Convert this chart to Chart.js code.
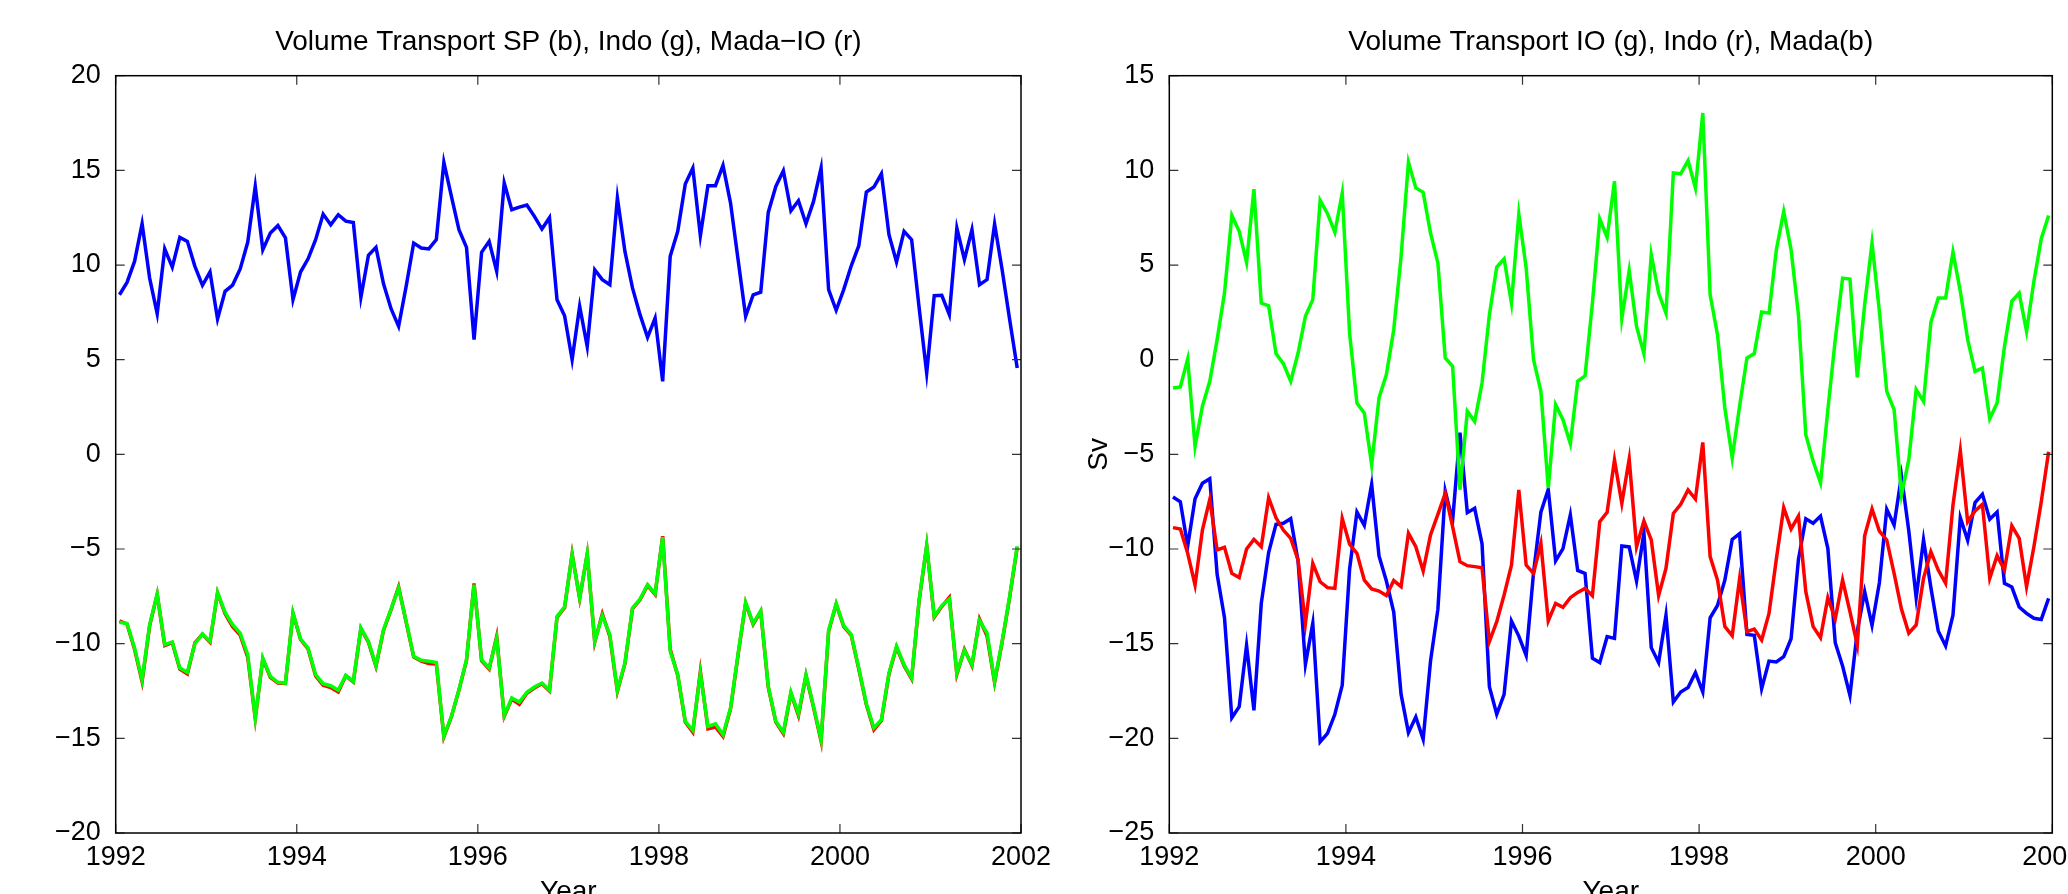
<!DOCTYPE html>
<html>
<head>
<meta charset="utf-8">
<title>Volume Transport</title>
<script src="https://cdn.jsdelivr.net/npm/chart.js@4.4.1/dist/chart.umd.min.js"></script>
<style>
    html, body { margin: 0; padding: 0; background: #fff; overflow: hidden; }
    #wrap { position: relative; width: 2068px; height: 894px; overflow: hidden; }
    .box { position: absolute; top: 0; height: 930px; }
    #leftBox { left: 0; width: 1060px; }
    #rightBox { left: 1060px; width: 1060px; }
</style>
</head>
<body>
<div id="wrap">
    <div class="box" id="leftBox"><canvas id="leftChart"></canvas></div>
    <div class="box" id="rightBox"><canvas id="rightChart"></canvas></div>
</div>
<script>
// monthly values, Jan 1992 .. Dec 2001 (Sv)
const sp = [
    8.43, 9.08, 10.19, 12.18, 9.31, 7.43, 10.85, 9.89, 11.46, 11.25,
    9.93, 8.93, 9.63, 7.15, 8.61, 8.94, 9.79, 11.20, 14.15, 10.81,
    11.69, 12.08, 11.43, 8.17, 9.63, 10.33, 11.34, 12.69, 12.13, 12.66,
    12.32, 12.25, 8.29, 10.51, 10.93, 9.01, 7.69, 6.76, 8.87, 11.16,
    10.90, 10.85, 11.34, 15.42, 13.63, 11.87, 10.93, 6.06, 10.67, 11.25,
    9.67, 14.33, 12.92, 13.06, 13.17, 12.57, 11.90, 12.50, 8.17, 7.32,
    5.00, 7.82, 5.70, 9.75, 9.23, 8.96, 13.54, 10.72, 8.79, 7.38,
    6.18, 7.20, 3.86, 10.46, 11.78, 14.28, 15.12, 11.55, 14.19, 14.19,
    15.26, 13.27, 10.28, 7.29, 8.43, 8.57, 12.78, 14.15, 14.98, 12.87,
    13.40, 12.18, 13.36, 15.12, 8.70, 7.61, 8.70, 9.96, 11.02, 13.86,
    14.12, 14.82, 11.60, 10.16, 11.78, 11.34, 7.73, 4.30, 8.38, 8.40,
    7.38, 11.95, 10.28, 11.87, 8.96, 9.23, 12.17, 9.75, 7.11, 4.56
];

const indo = [
    -8.87, -8.94, -10.23, -11.90, -9.00, -7.38, -10.05, -9.91, -11.29, -11.51,
    -10.00, -9.49, -9.88, -7.29, -8.35, -9.00, -9.44, -10.58, -13.93, -10.76,
    -11.73, -12.04, -12.08, -8.38, -9.75, -10.23, -11.64, -12.11, -12.22, -12.46,
    -11.67, -11.99, -9.17, -9.88, -11.16, -9.26, -8.17, -7.06, -8.82, -10.67,
    -10.88, -10.93, -10.99, -14.89, -13.84, -12.43, -10.85, -6.88, -10.85, -11.29,
    -9.70, -13.80, -12.87, -13.08, -12.57, -12.29, -12.08, -12.46, -8.56, -8.06,
    -5.30, -7.59, -5.25, -9.88, -8.52, -9.52, -12.46, -11.02, -8.12, -7.64,
    -6.88, -7.36, -4.37, -10.40, -11.64, -14.10, -14.58, -11.58, -14.37, -14.23,
    -14.81, -13.40, -10.53, -7.82, -8.94, -8.26, -12.25, -14.10, -14.68, -12.57,
    -13.70, -11.64, -13.31, -15.07, -9.30, -7.89, -9.05, -9.52, -11.29, -13.17,
    -14.45, -14.01, -11.55, -10.14, -11.11, -11.81, -7.68, -4.81, -8.56, -7.99,
    -7.64, -11.55, -10.35, -11.11, -8.77, -9.44, -11.99, -9.88, -7.50, -4.86
];

// almost on top of indo, peeks out here and there
const madaIO = [
    -8.80, -8.96, -10.30, -12.00, -9.05, -7.40, -10.10, -9.95, -11.35, -11.60,
    -9.95, -9.50, -9.92, -7.32, -8.42, -9.10, -9.55, -10.72, -13.95, -10.80,
    -11.78, -12.08, -12.10, -8.40, -9.78, -10.28, -11.70, -12.20, -12.32, -12.55,
    -11.70, -12.02, -9.20, -9.92, -11.20, -9.30, -8.20, -7.00, -8.86, -10.70,
    -10.92, -11.05, -11.08, -14.92, -13.86, -12.45, -10.88, -6.82, -10.90, -11.34,
    -9.62, -13.84, -12.92, -13.20, -12.62, -12.34, -12.12, -12.50, -8.60, -8.10,
    -5.26, -7.62, -5.28, -9.92, -8.42, -9.62, -12.52, -11.06, -8.16, -7.68,
    -6.92, -7.40, -4.32, -10.30, -11.68, -14.14, -14.68, -11.46, -14.50, -14.40,
    -14.90, -13.44, -10.58, -7.86, -8.98, -8.30, -12.30, -14.14, -14.75, -12.62,
    -13.80, -11.68, -13.36, -15.15, -9.34, -7.92, -9.10, -9.56, -11.34, -13.22,
    -14.55, -14.06, -11.60, -10.18, -11.16, -11.86, -7.72, -4.84, -8.60, -8.04,
    -7.55, -11.62, -10.30, -11.16, -8.70, -9.60, -12.04, -9.92, -7.54, -4.90
];

const io = [
    -1.50, -1.44, 0.04, -4.58, -2.46, -1.14, 1.06, 3.52, 7.62, 6.78,
    5.14, 9.01, 2.99, 2.85, 0.32, -0.21, -1.14, 0.35, 2.29, 3.17,
    8.42, 7.71, 6.73, 8.80, 1.41, -2.29, -2.82, -5.55, -2.02, -0.79,
    1.58, 5.46, 10.44, 9.07, 8.84, 6.69, 5.11, 0.09, -0.35, -6.87,
    -2.73, -3.26, -1.23, 2.38, 4.89, 5.32, 2.99, 7.69, 4.84, 0.00,
    -1.67, -6.78, -2.38, -3.17, -4.44, -1.14, -0.85, 2.99, 7.43, 6.46,
    9.42, 2.17, 4.70, 1.76, 0.32, 5.55, 3.52, 2.46, 9.86, 9.82,
    10.51, 9.07, 13.03, 3.43, 1.32, -2.55, -5.19, -2.46, 0.09, 0.32,
    2.52, 2.46, 5.81, 7.83, 5.81, 2.38, -3.96, -5.37, -6.51, -2.64,
    1.06, 4.31, 4.26, -0.93, 2.90, 6.16, 2.55, -1.67, -2.64, -7.13,
    -5.28, -1.58, -2.20, 1.97, 3.26, 3.26, 5.69, 3.61, 1.06, -0.62,
    -0.44, -3.12, -2.29, 0.70, 3.08, 3.52, 1.50, 4.14, 6.39, 7.62
];

const mada = [
    -7.25, -7.50, -9.84, -7.34, -6.53, -6.29, -11.34, -13.63, -18.91, -18.33,
    -15.09, -18.52, -12.87, -10.19, -8.70, -8.64, -8.40, -10.63, -16.09, -13.93,
    -20.19, -19.74, -18.73, -17.20, -11.07, -8.05, -8.75, -6.58, -10.37, -11.69,
    -13.33, -17.68, -19.70, -18.87, -20.05, -15.92, -13.19, -6.94, -8.52, -3.86,
    -8.08, -7.85, -9.72, -17.27, -18.73, -17.68, -13.80, -14.60, -15.62, -11.25,
    -8.05, -6.85, -10.63, -9.98, -8.20, -11.13, -11.29, -15.77, -16.00, -14.63,
    -14.72, -9.84, -9.89, -11.69, -9.14, -15.21, -16.00, -13.50, -18.08, -17.55,
    -17.32, -16.53, -17.55, -13.63, -12.98, -11.64, -9.49, -9.19, -14.51, -14.56,
    -17.38, -15.92, -15.97, -15.69, -14.74, -10.55, -8.40, -8.64, -8.26, -9.98,
    -14.95, -16.18, -17.73, -14.33, -12.25, -14.03, -11.78, -7.90, -8.73, -6.14,
    -9.05, -12.57, -9.52, -12.04, -14.33, -15.12, -13.50, -8.35, -9.54, -7.55,
    -7.11, -8.43, -8.05, -11.81, -12.01, -13.06, -13.40, -13.66, -13.72, -12.61
];

// mid-month time stamps in decimal years
const months = sp.map((_, k) => 1992 + (k + 0.5) / 12);
const yearTicks = [1992, 1994, 1996, 1998, 2000, 2002];

Chart.defaults.font.family = '"Liberation Sans", Arial, Helvetica, sans-serif';
Chart.defaults.color = '#000';

function toXY(values) {
    return values.map((v, k) => ({ x: months[k], y: v }));
}

function lineSet(label, values, color) {
    return {
        label: label,
        data: toXY(values),
        borderColor: color,
        borderWidth: 3.5,
        pointRadius: 0,
        tension: 0,
        fill: false
    };
}

// matlab style box with inward ticks on all four sides
const matlabBox = {
    id: 'matlabBox',
    afterDatasetsDraw: function(chart) {
        const ctx = chart.ctx;
        const a = chart.chartArea;
        const xs = chart.scales.x, ys = chart.scales.y;
        const len = 9;
        ctx.save();
        ctx.strokeStyle = '#333';
        ctx.lineWidth = 1.2;
        ctx.beginPath();
        xs.ticks.forEach(function(t) {
            const px = xs.getPixelForValue(t.value);
            ctx.moveTo(px, a.bottom); ctx.lineTo(px, a.bottom - len);
            ctx.moveTo(px, a.top); ctx.lineTo(px, a.top + len);
        });
        ys.ticks.forEach(function(t) {
            const py = ys.getPixelForValue(t.value);
            ctx.moveTo(a.left, py); ctx.lineTo(a.left + len, py);
            ctx.moveTo(a.right, py); ctx.lineTo(a.right - len, py);
        });
        ctx.stroke();
        ctx.strokeStyle = '#000';
        ctx.lineWidth = 1.5;
        ctx.strokeRect(a.left, a.top, a.right - a.left, a.bottom - a.top);
        ctx.restore();
    }
};

function makeOptions(opts) {
    return {
        responsive: true,
        maintainAspectRatio: false,
        animation: false,
        layout: { padding: { left: 0, right: opts.padRight, top: 0, bottom: 0 } },
        plugins: {
            legend: { display: false },
            tooltip: { enabled: false },
            title: {
                display: true,
                text: opts.title,
                fullSize: false,
                color: '#000',
                font: { size: 28, weight: 'normal' },
                padding: { top: 25.7, bottom: 16.4 }
            }
        },
        scales: {
            x: {
                type: 'linear',
                min: 1992,
                max: 2002,
                afterBuildTicks: function(scale) {
                    scale.ticks = yearTicks.map(v => ({ value: v }));
                },
                afterFit: function(scale) { scale.height = 97; },
                grid: { display: false },
                border: { display: false },
                ticks: {
                    padding: 0,
                    font: { size: 27 },
                    maxRotation: 0,
                    callback: function(value) { return String(value); }
                },
                title: {
                    display: true,
                    text: 'Year',
                    font: { size: 28 },
                    padding: { top: 0, bottom: 21 }
                }
            },
            y: {
                min: opts.yMin,
                max: opts.yMax,
                afterFit: function(scale) { scale.width = opts.yWidth; },
                grid: { display: false },
                border: { display: false },
                ticks: {
                    stepSize: 5,
                    padding: 7,
                    font: { size: 27 },
                    callback: function(value) { return String(value).replace('-', '\u2212'); }
                },
                title: {
                    display: !!opts.yTitle,
                    text: opts.yTitle || '',
                    font: { size: 28 },
                    padding: { top: 22, bottom: 0 }
                }
            }
        }
    };
}

document.addEventListener('DOMContentLoaded', function() {
    const ctxLeft = document.getElementById('leftChart').getContext('2d');
    const ctxRight = document.getElementById('rightChart').getContext('2d');

    // left panel: SP, Indo, Mada-IO  (first dataset ends up on top)
    new Chart(ctxLeft, {
        type: 'line',
        data: {
            datasets: [
                lineSet('Indo', indo, '#00ff00'),
                lineSet('Mada-IO', madaIO, '#ff0000'),
                lineSet('SP', sp, '#0000ff')
            ]
        },
        options: makeOptions({
            title: 'Volume Transport SP (b), Indo (g), Mada\u2212IO (r)',
            yMin: -20, yMax: 20, yWidth: 115.7, padRight: 39
        }),
        plugins: [matlabBox]
    });

    // right panel: IO, Indo, Mada
    new Chart(ctxRight, {
        type: 'line',
        data: {
            datasets: [
                lineSet('IO', io, '#00ff00'),
                lineSet('Indo', indo, '#ff0000'),
                lineSet('Mada', mada, '#0000ff')
            ]
        },
        options: makeOptions({
            title: 'Volume Transport IO (g), Indo (r), Mada(b)',
            yMin: -25, yMax: 15, yWidth: 109.3, padRight: 67.7, yTitle: 'Sv'
        }),
        plugins: [matlabBox]
    });
});
</script>
</body>
</html>
